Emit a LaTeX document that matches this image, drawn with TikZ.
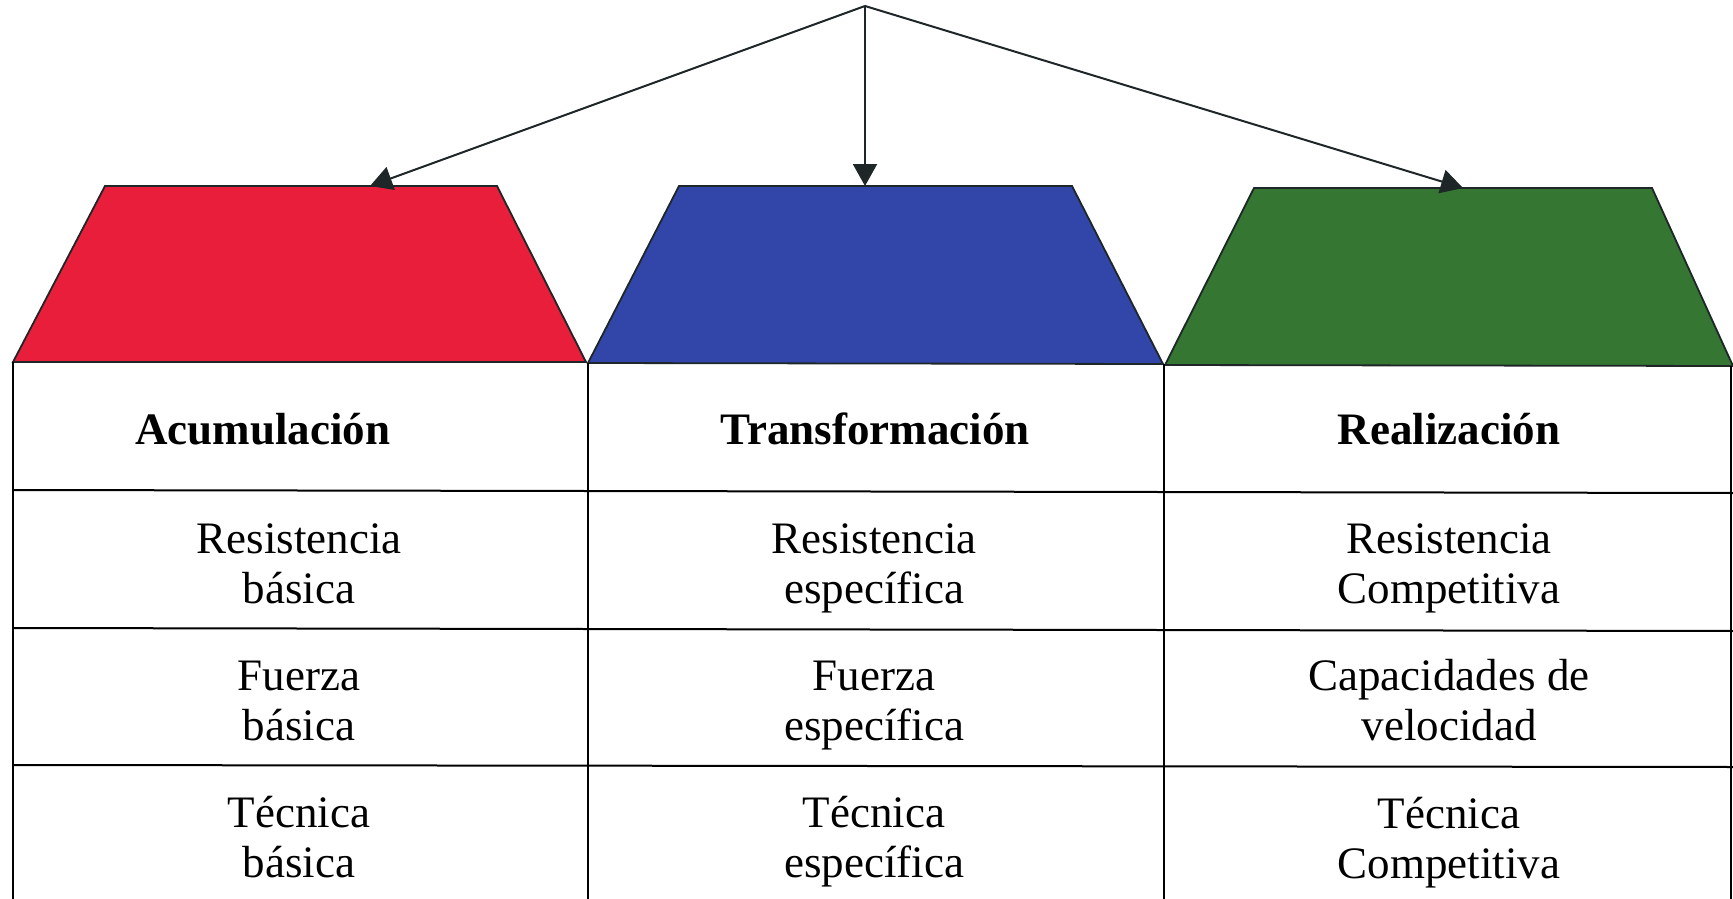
\documentclass[tikz,border=0pt]{standalone}
\usepackage{fontspec}
\setmainfont{Liberation Serif}
\usetikzlibrary{arrows.meta}
\definecolor{roofred}{RGB}{232,30,58}
\definecolor{roofblue}{RGB}{50,70,170}
\definecolor{roofgreen}{RGB}{52,118,50}
\definecolor{ink}{RGB}{30,38,40}
\newcommand{\cellline}[1]{\strut #1}
\begin{document}
\begin{tikzpicture}[x=1pt,y=-1pt,
  roof/.style={fill=#1, draw=ink, line width=1.8pt, line join=miter},
  gridline/.style={draw=black, line width=2pt},
  link/.style={draw=ink, line width=2pt, -{Triangle[width=24pt,length=22pt]}},
  head/.style={font=\fontsize{45}{50}\selectfont\bfseries, inner sep=0pt},
  cell/.style={font=\fontsize{45}{50}\selectfont, align=center, inner sep=0pt}]
\useasboundingbox (0,0) rectangle (1733,899);
\clip (0,0) rectangle (1733,899);
\fill[white] (0,0) rectangle (1733,899);

% roofs
\draw[roof=roofred]   (13,362) -- (105,186) -- (497,186) -- (586,362) -- cycle;
\draw[roof=roofblue]  (588,363) -- (679,186) -- (1072,186) -- (1163,364) -- cycle;
\draw[roof=roofgreen] (1165,365) -- (1254,188) -- (1652,188) -- (1733,366) -- cycle;

% arrow coordinates
\coordinate (apex) at (865,6);
\coordinate (redtop) at (370,186);
\coordinate (bluetop) at (865,186);
\coordinate (greentop) at (1463,188);
\draw[link] (apex) -- (redtop);
\draw[link] (apex) -- (bluetop);
\draw[link] (apex) -- (greentop);

% table lines
\draw[gridline] (13,362) -- (13,899);
\draw[gridline] (588,363) -- (588,899);
\draw[gridline] (1164,364) -- (1164,899);
\draw[gridline] (1731,366) -- (1731,899);
\draw[gridline] (13,490) -- (1733,493);
\draw[gridline] (13,628) -- (1733,631);
\draw[gridline] (13,765) -- (1733,767);

% headers
\node[head] (h1) at (263,429) {Acumulación};
\node[head] (h2) at (875,429) {Transformación};
\node[head] (h3) at (1449,429) {Realización};

% cells
\node[cell] (a1) at (299,568) {\cellline{Resistencia}\\\cellline{básica}};
\node[cell] (b1) at (874,568) {\cellline{Resistencia}\\\cellline{específica}};
\node[cell] (c1) at (1449,568) {\cellline{Resistencia}\\\cellline{Competitiva}};
\node[cell] (a2) at (299,705) {\cellline{Fuerza}\\\cellline{básica}};
\node[cell] (b2) at (874,705) {\cellline{Fuerza}\\\cellline{específica}};
\node[cell] (c2) at (1449,705) {\cellline{Capacidades de}\\\cellline{velocidad}};
\node[cell] (a3) at (299,842) {\cellline{Técnica}\\\cellline{básica}};
\node[cell] (b3) at (874,842) {\cellline{Técnica}\\\cellline{específica}};
\node[cell] (c3) at (1449,843) {\cellline{Técnica}\\\cellline{Competitiva}};
\end{tikzpicture}
\end{document}
